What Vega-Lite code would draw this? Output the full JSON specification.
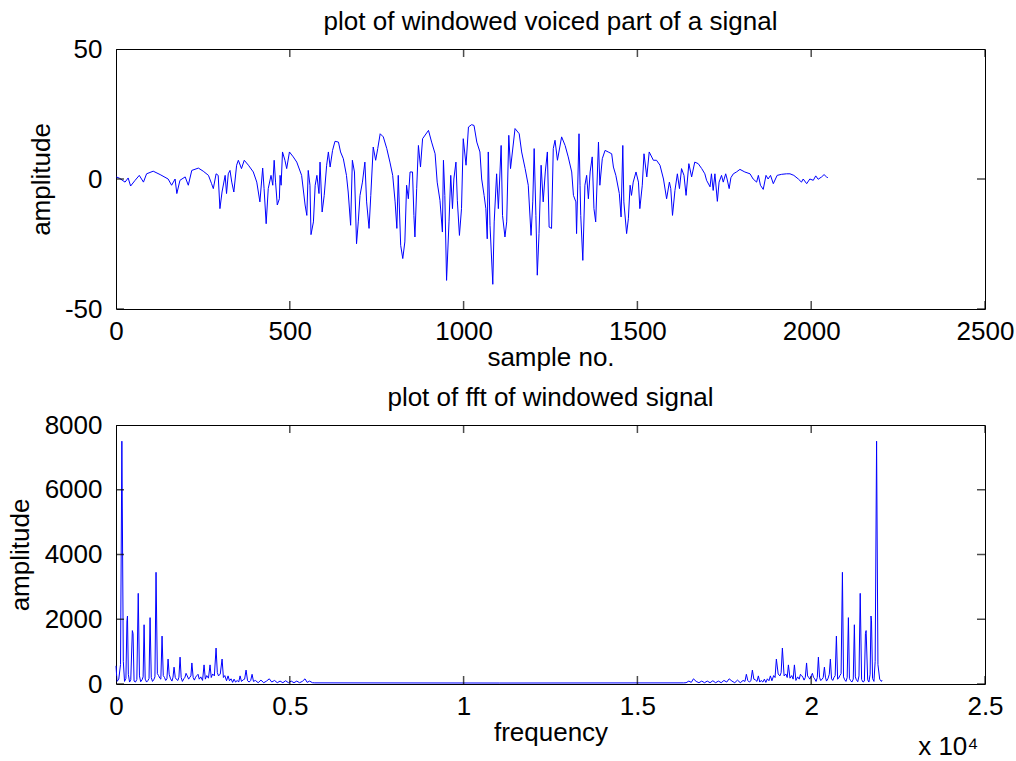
{
"$schema": "https://vega.github.io/schema/vega-lite/v6.json",
"background": "white",
"padding": {"left": 6, "top": 8, "right": 5, "bottom": 0},
"spacing": 116,
"bounds": "flush",
"config": {
  "font": "Liberation Sans",
  "view": {"stroke": "black", "strokeWidth": 1},
  "axis": {"domain": false, "grid": false, "ticks": false, "labelColor": "black", "labelFontSize": 26, "labelFont": "Liberation Sans", "titleFont": "Liberation Sans", "titleFontSize": 26, "titleFontWeight": "normal", "titleColor": "black", "labelPadding": 9, "labelFlush": false, "labelOverlap": false},
  "tick": {"color": "black", "thickness": 1.5, "size": 16},
  "title": {"font": "Liberation Sans", "fontSize": 26, "fontWeight": "normal", "color": "black", "offset": 1}
},
"vconcat": [
{
  "width": 869, "height": 260,
  "title": "plot of windowed voiced part of a signal",
  "layer": [
    {"data": {"values": [
{"sample":1,"amplitude":0.8},{"sample":10,"amplitude":0.3},{"sample":26,"amplitude":-1.2},{"sample":35,"amplitude":0.4},{"sample":42,"amplitude":-2.7},{"sample":55,"amplitude":-0.5},{"sample":67,"amplitude":1.4},{"sample":79,"amplitude":-1.2},{"sample":88,"amplitude":2},{"sample":107,"amplitude":3},{"sample":127,"amplitude":1.7},{"sample":150,"amplitude":0},{"sample":160,"amplitude":-2.4},{"sample":170,"amplitude":0},{"sample":175,"amplitude":-5.6},{"sample":184,"amplitude":-0.5},{"sample":199,"amplitude":0.8},{"sample":208,"amplitude":-2.4},{"sample":218,"amplitude":3.3},{"sample":237,"amplitude":4.2},{"sample":251,"amplitude":3},{"sample":266,"amplitude":1.4},{"sample":275,"amplitude":-1.8},{"sample":280,"amplitude":-3.7},{"sample":288,"amplitude":2},{"sample":294,"amplitude":1.4},{"sample":299,"amplitude":-11.4},{"sample":305,"amplitude":-5},{"sample":314,"amplitude":1.4},{"sample":318,"amplitude":-5.6},{"sample":323,"amplitude":2},{"sample":328,"amplitude":3.3},{"sample":333,"amplitude":-1.2},{"sample":339,"amplitude":-5},{"sample":347,"amplitude":5.3},{"sample":352,"amplitude":7.2},{"sample":361,"amplitude":4},{"sample":369,"amplitude":7.2},{"sample":381,"amplitude":5.3},{"sample":395,"amplitude":2.7},{"sample":405,"amplitude":-1.2},{"sample":414,"amplitude":-8.8},{"sample":422,"amplitude":4.2},{"sample":426,"amplitude":-3.7},{"sample":432,"amplitude":-17.2},{"sample":438,"amplitude":-3.7},{"sample":446,"amplitude":1.4},{"sample":451,"amplitude":-2.4},{"sample":455,"amplitude":7.2},{"sample":459,"amplitude":-1.2},{"sample":464,"amplitude":-10},{"sample":470,"amplitude":-7.6},{"sample":472,"amplitude":1.4},{"sample":475,"amplitude":-2.4},{"sample":479,"amplitude":10.4},{"sample":486,"amplitude":7.2},{"sample":491,"amplitude":4},{"sample":499,"amplitude":10.4},{"sample":510,"amplitude":8.5},{"sample":520,"amplitude":6.5},{"sample":534,"amplitude":1.4},{"sample":544,"amplitude":-10},{"sample":549,"amplitude":-14},{"sample":553,"amplitude":3.3},{"sample":558,"amplitude":-2.4},{"sample":561,"amplitude":-21.4},{"sample":568,"amplitude":-16.5},{"sample":573,"amplitude":-2.4},{"sample":578,"amplitude":1.4},{"sample":584,"amplitude":-5.6},{"sample":587,"amplitude":6.5},{"sample":593,"amplitude":-12.7},{"sample":599,"amplitude":-6.3},{"sample":606,"amplitude":5.3},{"sample":611,"amplitude":10.4},{"sample":616,"amplitude":4.6},{"sample":623,"amplitude":11},{"sample":630,"amplitude":14.5},{"sample":640,"amplitude":14.2},{"sample":646,"amplitude":10.4},{"sample":654,"amplitude":7.8},{"sample":663,"amplitude":1.4},{"sample":668,"amplitude":-5},{"sample":675,"amplitude":-17.8},{"sample":680,"amplitude":7.2},{"sample":686,"amplitude":2.7},{"sample":692,"amplitude":-24.9},{"sample":697,"amplitude":-16.5},{"sample":702,"amplitude":-6.3},{"sample":709,"amplitude":-1.2},{"sample":716,"amplitude":6.5},{"sample":721,"amplitude":-8.8},{"sample":728,"amplitude":-19},{"sample":733,"amplitude":-6.3},{"sample":740,"amplitude":12.3},{"sample":747,"amplitude":7.2},{"sample":753,"amplitude":11.7},{"sample":760,"amplitude":17.4},{"sample":769,"amplitude":16.2},{"sample":779,"amplitude":11.7},{"sample":788,"amplitude":6.5},{"sample":796,"amplitude":1.4},{"sample":803,"amplitude":-8.8},{"sample":808,"amplitude":-19},{"sample":812,"amplitude":1.4},{"sample":819,"amplitude":-25.5},{"sample":825,"amplitude":-30.6},{"sample":831,"amplitude":-24.2},{"sample":836,"amplitude":-2.4},{"sample":841,"amplitude":-7.6},{"sample":846,"amplitude":2.7},{"sample":853,"amplitude":2.7},{"sample":857,"amplitude":-14},{"sample":860,"amplitude":-22.3},{"sample":865,"amplitude":-3.7},{"sample":870,"amplitude":12.9},{"sample":876,"amplitude":4.6},{"sample":882,"amplitude":15.5},{"sample":899,"amplitude":18.7},{"sample":908,"amplitude":14.2},{"sample":918,"amplitude":9.7},{"sample":924,"amplitude":-1.2},{"sample":932,"amplitude":-8.2},{"sample":939,"amplitude":-20.4},{"sample":942,"amplitude":7.2},{"sample":946,"amplitude":-6.3},{"sample":951,"amplitude":-39},{"sample":958,"amplitude":-16.5},{"sample":963,"amplitude":1.4},{"sample":968,"amplitude":-11.4},{"sample":972,"amplitude":0},{"sample":978,"amplitude":6.5},{"sample":982,"amplitude":-8.2},{"sample":988,"amplitude":-21.7},{"sample":994,"amplitude":-11.4},{"sample":999,"amplitude":15.5},{"sample":1007,"amplitude":5.3},{"sample":1014,"amplitude":20},{"sample":1023,"amplitude":20.9},{"sample":1030,"amplitude":20.6},{"sample":1038,"amplitude":14.2},{"sample":1047,"amplitude":10.4},{"sample":1052,"amplitude":0},{"sample":1059,"amplitude":-6.3},{"sample":1064,"amplitude":-11.4},{"sample":1068,"amplitude":-23},{"sample":1071,"amplitude":10.4},{"sample":1076,"amplitude":-17.8},{"sample":1084,"amplitude":-40.5},{"sample":1088,"amplitude":-16.5},{"sample":1095,"amplitude":2},{"sample":1100,"amplitude":-11.4},{"sample":1108,"amplitude":12.9},{"sample":1112,"amplitude":-14},{"sample":1119,"amplitude":-22.3},{"sample":1124,"amplitude":-16.5},{"sample":1130,"amplitude":16.8},{"sample":1135,"amplitude":4},{"sample":1148,"amplitude":19.4},{"sample":1160,"amplitude":17.4},{"sample":1167,"amplitude":10.4},{"sample":1177,"amplitude":4},{"sample":1186,"amplitude":-2.4},{"sample":1194,"amplitude":-21.7},{"sample":1199,"amplitude":-8.8},{"sample":1203,"amplitude":11.7},{"sample":1208,"amplitude":-14},{"sample":1212,"amplitude":-37},{"sample":1217,"amplitude":-21},{"sample":1223,"amplitude":5.3},{"sample":1229,"amplitude":-8.8},{"sample":1235,"amplitude":2.7},{"sample":1241,"amplitude":10.4},{"sample":1246,"amplitude":-18.5},{"sample":1253,"amplitude":-19},{"sample":1258,"amplitude":11.7},{"sample":1263,"amplitude":14.9},{"sample":1270,"amplitude":7.2},{"sample":1282,"amplitude":16.2},{"sample":1292,"amplitude":12.9},{"sample":1301,"amplitude":8.5},{"sample":1311,"amplitude":2.7},{"sample":1316,"amplitude":-6.3},{"sample":1323,"amplitude":-8.8},{"sample":1325,"amplitude":-21},{"sample":1332,"amplitude":17.4},{"sample":1335,"amplitude":-2.4},{"sample":1337,"amplitude":-14},{"sample":1343,"amplitude":-31.3},{"sample":1349,"amplitude":-2.4},{"sample":1354,"amplitude":1.4},{"sample":1359,"amplitude":-7.6},{"sample":1364,"amplitude":2.7},{"sample":1370,"amplitude":8.5},{"sample":1375,"amplitude":-11.4},{"sample":1380,"amplitude":-16.5},{"sample":1388,"amplitude":14.2},{"sample":1392,"amplitude":-2.4},{"sample":1399,"amplitude":7.8},{"sample":1407,"amplitude":11},{"sample":1416,"amplitude":10.4},{"sample":1426,"amplitude":9.7},{"sample":1431,"amplitude":4.6},{"sample":1438,"amplitude":1.4},{"sample":1448,"amplitude":-5.6},{"sample":1453,"amplitude":-14.6},{"sample":1458,"amplitude":12.9},{"sample":1461,"amplitude":-8.8},{"sample":1469,"amplitude":-21},{"sample":1474,"amplitude":-15.3},{"sample":1479,"amplitude":-2.4},{"sample":1483,"amplitude":-6.3},{"sample":1488,"amplitude":-1.2},{"sample":1496,"amplitude":2.7},{"sample":1503,"amplitude":-1.2},{"sample":1507,"amplitude":-11.4},{"sample":1514,"amplitude":-2.4},{"sample":1519,"amplitude":9.7},{"sample":1527,"amplitude":0.8},{"sample":1534,"amplitude":10.4},{"sample":1546,"amplitude":7.2},{"sample":1555,"amplitude":7.2},{"sample":1565,"amplitude":5.3},{"sample":1575,"amplitude":0},{"sample":1584,"amplitude":-7.6},{"sample":1592,"amplitude":-1.2},{"sample":1596,"amplitude":-3.7},{"sample":1601,"amplitude":-14},{"sample":1608,"amplitude":-4.4},{"sample":1615,"amplitude":2},{"sample":1621,"amplitude":-3.7},{"sample":1627,"amplitude":4},{"sample":1634,"amplitude":1.4},{"sample":1640,"amplitude":-6.3},{"sample":1648,"amplitude":5.9},{"sample":1656,"amplitude":0.8},{"sample":1665,"amplitude":6.5},{"sample":1675,"amplitude":5.9},{"sample":1685,"amplitude":4},{"sample":1694,"amplitude":2},{"sample":1699,"amplitude":-0.5},{"sample":1709,"amplitude":-3},{"sample":1713,"amplitude":2},{"sample":1718,"amplitude":-4.4},{"sample":1723,"amplitude":2},{"sample":1730,"amplitude":-8.6},{"sample":1735,"amplitude":-1.2},{"sample":1742,"amplitude":1.4},{"sample":1747,"amplitude":-1.2},{"sample":1754,"amplitude":2},{"sample":1758,"amplitude":0},{"sample":1764,"amplitude":-3.7},{"sample":1769,"amplitude":0.5},{"sample":1776,"amplitude":2},{"sample":1785,"amplitude":2.7},{"sample":1795,"amplitude":3.7},{"sample":1809,"amplitude":2.7},{"sample":1824,"amplitude":2},{"sample":1833,"amplitude":0},{"sample":1843,"amplitude":-1.2},{"sample":1848,"amplitude":1.4},{"sample":1854,"amplitude":-2.4},{"sample":1862,"amplitude":-4},{"sample":1870,"amplitude":1.4},{"sample":1876,"amplitude":0},{"sample":1883,"amplitude":1.4},{"sample":1891,"amplitude":-1.8},{"sample":1902,"amplitude":1.4},{"sample":1915,"amplitude":1.8},{"sample":1929,"amplitude":2},{"sample":1939,"amplitude":2},{"sample":1950,"amplitude":1.4},{"sample":1963,"amplitude":0},{"sample":1972,"amplitude":-1.2},{"sample":1977,"amplitude":0},{"sample":1987,"amplitude":-1.8},{"sample":1996,"amplitude":0},{"sample":2006,"amplitude":-0.5},{"sample":2013,"amplitude":1.2},{"sample":2020,"amplitude":-0.1},{"sample":2030,"amplitude":0.8},{"sample":2037,"amplitude":1.7},{"sample":2044,"amplitude":0.8},{"sample":2048,"amplitude":0.5}
     ]},
     "mark": {"type": "line", "color": "#0000ff", "strokeWidth": 1},
     "encoding": {
       "x": {"field": "sample", "type": "quantitative", "scale": {"domain": [0, 2500], "nice": false, "zero": false}, "axis": {"orient": "bottom", "title": "sample no.", "values": [0, 500, 1000, 1500, 2000, 2500], "labelExpr": "'' + datum.value", "titlePadding": 0}},
       "y": {"field": "amplitude", "type": "quantitative", "scale": {"domain": [-50, 50], "nice": false}, "axis": {"orient": "left", "title": "amplitude", "values": [-50, 0, 50], "labelExpr": "'' + datum.value", "labelPadding": 14, "titlePadding": 10}}
     }},
    {"data": {"values": [{"tick": 0}, {"tick": 500}, {"tick": 1000}, {"tick": 1500}, {"tick": 2000}, {"tick": 2500}]},
     "mark": {"type": "tick", "orient": "vertical", "clip": true},
     "encoding": {"x": {"field": "tick", "type": "quantitative", "axis": null}, "y": {"datum": -50, "type": "quantitative", "axis": null}}},
    {"data": {"values": [{"tick": 0}, {"tick": 500}, {"tick": 1000}, {"tick": 1500}, {"tick": 2000}, {"tick": 2500}]},
     "mark": {"type": "tick", "orient": "vertical", "clip": true},
     "encoding": {"x": {"field": "tick", "type": "quantitative", "axis": null}, "y": {"datum": 50, "type": "quantitative", "axis": null}}},
    {"data": {"values": [{"tick": -50}, {"tick": 0}, {"tick": 50}]},
     "mark": {"type": "tick", "orient": "horizontal", "clip": true},
     "encoding": {"y": {"field": "tick", "type": "quantitative", "axis": null}, "x": {"datum": 0, "type": "quantitative", "axis": null}}},
    {"data": {"values": [{"tick": -50}, {"tick": 0}, {"tick": 50}]},
     "mark": {"type": "tick", "orient": "horizontal", "clip": true},
     "encoding": {"y": {"field": "tick", "type": "quantitative", "axis": null}, "x": {"datum": 2500, "type": "quantitative", "axis": null}}}
  ],
  "resolve": {"axis": {"x": "independent", "y": "independent"}}
},
{
  "width": 869, "height": 259,
  "title": "plot of fft of windowed signal",
  "layer": [
    {"data": {"values": [
{"frequency":0,"magnitude":560},{"frequency":30,"magnitude":80},{"frequency":80,"magnitude":150},{"frequency":130,"magnitude":600},{"frequency":169,"magnitude":7500},{"frequency":210,"magnitude":700},{"frequency":245,"magnitude":80},{"frequency":285,"magnitude":170},{"frequency":315,"magnitude":1950},{"frequency":330,"magnitude":2100},{"frequency":355,"magnitude":300},{"frequency":390,"magnitude":60},{"frequency":425,"magnitude":130},{"frequency":470,"magnitude":1650},{"frequency":490,"magnitude":1560},{"frequency":520,"magnitude":90},{"frequency":560,"magnitude":60},{"frequency":600,"magnitude":140},{"frequency":640,"magnitude":2800},{"frequency":675,"magnitude":250},{"frequency":710,"magnitude":70},{"frequency":750,"magnitude":130},{"frequency":780,"magnitude":220},{"frequency":808,"magnitude":1830},{"frequency":840,"magnitude":150},{"frequency":880,"magnitude":60},{"frequency":920,"magnitude":110},{"frequency":950,"magnitude":170},{"frequency":980,"magnitude":2050},{"frequency":1015,"magnitude":200},{"frequency":1050,"magnitude":80},{"frequency":1085,"magnitude":130},{"frequency":1120,"magnitude":220},{"frequency":1152,"magnitude":3450},{"frequency":1190,"magnitude":320},{"frequency":1225,"magnitude":260},{"frequency":1260,"magnitude":180},{"frequency":1290,"magnitude":150},{"frequency":1325,"magnitude":1480},{"frequency":1360,"magnitude":260},{"frequency":1395,"magnitude":200},{"frequency":1430,"magnitude":110},{"frequency":1465,"magnitude":160},{"frequency":1498,"magnitude":770},{"frequency":1530,"magnitude":300},{"frequency":1570,"magnitude":160},{"frequency":1610,"magnitude":90},{"frequency":1640,"magnitude":210},{"frequency":1670,"magnitude":520},{"frequency":1705,"magnitude":200},{"frequency":1740,"magnitude":140},{"frequency":1780,"magnitude":110},{"frequency":1810,"magnitude":210},{"frequency":1843,"magnitude":830},{"frequency":1875,"magnitude":200},{"frequency":1910,"magnitude":80},{"frequency":1950,"magnitude":160},{"frequency":1985,"magnitude":210},{"frequency":2015,"magnitude":330},{"frequency":2050,"magnitude":250},{"frequency":2090,"magnitude":150},{"frequency":2125,"magnitude":210},{"frequency":2155,"magnitude":250},{"frequency":2183,"magnitude":650},{"frequency":2220,"magnitude":200},{"frequency":2255,"magnitude":120},{"frequency":2290,"magnitude":210},{"frequency":2325,"magnitude":260},{"frequency":2360,"magnitude":300},{"frequency":2395,"magnitude":150},{"frequency":2440,"magnitude":220},{"frequency":2490,"magnitude":110},{"frequency":2533,"magnitude":590},{"frequency":2570,"magnitude":150},{"frequency":2610,"magnitude":260},{"frequency":2660,"magnitude":180},{"frequency":2706,"magnitude":590},{"frequency":2740,"magnitude":200},{"frequency":2780,"magnitude":310},{"frequency":2830,"magnitude":250},{"frequency":2879,"magnitude":1110},{"frequency":2915,"magnitude":350},{"frequency":2950,"magnitude":250},{"frequency":3000,"magnitude":310},{"frequency":3052,"magnitude":770},{"frequency":3090,"magnitude":200},{"frequency":3130,"magnitude":260},{"frequency":3180,"magnitude":100},{"frequency":3224,"magnitude":250},{"frequency":3265,"magnitude":100},{"frequency":3310,"magnitude":160},{"frequency":3355,"magnitude":50},{"frequency":3397,"magnitude":150},{"frequency":3440,"magnitude":60},{"frequency":3490,"magnitude":110},{"frequency":3530,"magnitude":60},{"frequency":3570,"magnitude":250},{"frequency":3610,"magnitude":80},{"frequency":3660,"magnitude":130},{"frequency":3700,"magnitude":150},{"frequency":3742,"magnitude":430},{"frequency":3785,"magnitude":100},{"frequency":3830,"magnitude":60},{"frequency":3875,"magnitude":110},{"frequency":3915,"magnitude":300},{"frequency":3955,"magnitude":80},{"frequency":4010,"magnitude":110},{"frequency":4090,"magnitude":40},{"frequency":4170,"magnitude":120},{"frequency":4250,"magnitude":40},{"frequency":4330,"magnitude":90},{"frequency":4410,"magnitude":160},{"frequency":4480,"magnitude":60},{"frequency":4560,"magnitude":110},{"frequency":4640,"magnitude":40},{"frequency":4720,"magnitude":90},{"frequency":4800,"magnitude":40},{"frequency":4880,"magnitude":100},{"frequency":4960,"magnitude":40},{"frequency":5040,"magnitude":90},{"frequency":5120,"magnitude":40},{"frequency":5200,"magnitude":90},{"frequency":5280,"magnitude":40},{"frequency":5360,"magnitude":80},{"frequency":5437,"magnitude":160},{"frequency":5500,"magnitude":50},{"frequency":5570,"magnitude":90},{"frequency":5650,"magnitude":40},{"frequency":5720,"magnitude":35},{"frequency":11025,"magnitude":30},
{"frequency":16330,"magnitude":35},{"frequency":16400,"magnitude":40},{"frequency":16480,"magnitude":90},{"frequency":16550,"magnitude":50},{"frequency":16613,"magnitude":160},{"frequency":16690,"magnitude":80},{"frequency":16770,"magnitude":40},{"frequency":16850,"magnitude":90},{"frequency":16930,"magnitude":40},{"frequency":17010,"magnitude":90},{"frequency":17090,"magnitude":40},{"frequency":17170,"magnitude":100},{"frequency":17250,"magnitude":40},{"frequency":17330,"magnitude":90},{"frequency":17410,"magnitude":40},{"frequency":17490,"magnitude":110},{"frequency":17570,"magnitude":60},{"frequency":17640,"magnitude":160},{"frequency":17720,"magnitude":90},{"frequency":17800,"magnitude":40},{"frequency":17880,"magnitude":120},{"frequency":17960,"magnitude":40},{"frequency":18040,"magnitude":110},{"frequency":18095,"magnitude":80},{"frequency":18135,"magnitude":300},{"frequency":18175,"magnitude":110},{"frequency":18220,"magnitude":60},{"frequency":18265,"magnitude":100},{"frequency":18308,"magnitude":430},{"frequency":18350,"magnitude":150},{"frequency":18390,"magnitude":130},{"frequency":18440,"magnitude":80},{"frequency":18480,"magnitude":250},{"frequency":18520,"magnitude":60},{"frequency":18560,"magnitude":110},{"frequency":18610,"magnitude":60},{"frequency":18653,"magnitude":150},{"frequency":18695,"magnitude":50},{"frequency":18740,"magnitude":160},{"frequency":18785,"magnitude":100},{"frequency":18826,"magnitude":250},{"frequency":18870,"magnitude":100},{"frequency":18920,"magnitude":260},{"frequency":18960,"magnitude":200},{"frequency":18998,"magnitude":770},{"frequency":19050,"magnitude":310},{"frequency":19100,"magnitude":250},{"frequency":19135,"magnitude":350},{"frequency":19171,"magnitude":1110},{"frequency":19220,"magnitude":250},{"frequency":19270,"magnitude":310},{"frequency":19310,"magnitude":200},{"frequency":19344,"magnitude":590},{"frequency":19390,"magnitude":180},{"frequency":19440,"magnitude":260},{"frequency":19480,"magnitude":150},{"frequency":19517,"magnitude":590},{"frequency":19560,"magnitude":110},{"frequency":19610,"magnitude":220},{"frequency":19655,"magnitude":150},{"frequency":19690,"magnitude":300},{"frequency":19725,"magnitude":260},{"frequency":19760,"magnitude":210},{"frequency":19795,"magnitude":120},{"frequency":19830,"magnitude":200},{"frequency":19867,"magnitude":650},{"frequency":19895,"magnitude":250},{"frequency":19925,"magnitude":210},{"frequency":19960,"magnitude":150},{"frequency":20000,"magnitude":250},{"frequency":20035,"magnitude":330},{"frequency":20065,"magnitude":210},{"frequency":20100,"magnitude":160},{"frequency":20140,"magnitude":80},{"frequency":20175,"magnitude":200},{"frequency":20207,"magnitude":830},{"frequency":20240,"magnitude":210},{"frequency":20270,"magnitude":110},{"frequency":20310,"magnitude":140},{"frequency":20345,"magnitude":200},{"frequency":20380,"magnitude":520},{"frequency":20410,"magnitude":210},{"frequency":20440,"magnitude":90},{"frequency":20480,"magnitude":160},{"frequency":20520,"magnitude":300},{"frequency":20552,"magnitude":770},{"frequency":20585,"magnitude":160},{"frequency":20620,"magnitude":110},{"frequency":20655,"magnitude":200},{"frequency":20690,"magnitude":260},{"frequency":20725,"magnitude":1480},{"frequency":20760,"magnitude":150},{"frequency":20790,"magnitude":180},{"frequency":20825,"magnitude":260},{"frequency":20860,"magnitude":320},{"frequency":20898,"magnitude":3450},{"frequency":20930,"magnitude":220},{"frequency":20965,"magnitude":130},{"frequency":21000,"magnitude":80},{"frequency":21035,"magnitude":200},{"frequency":21070,"magnitude":2050},{"frequency":21100,"magnitude":170},{"frequency":21130,"magnitude":110},{"frequency":21170,"magnitude":60},{"frequency":21210,"magnitude":150},{"frequency":21242,"magnitude":1830},{"frequency":21270,"magnitude":220},{"frequency":21300,"magnitude":130},{"frequency":21340,"magnitude":70},{"frequency":21375,"magnitude":250},{"frequency":21410,"magnitude":2800},{"frequency":21450,"magnitude":140},{"frequency":21490,"magnitude":60},{"frequency":21530,"magnitude":90},{"frequency":21560,"magnitude":1560},{"frequency":21580,"magnitude":1650},{"frequency":21625,"magnitude":130},{"frequency":21660,"magnitude":60},{"frequency":21695,"magnitude":300},{"frequency":21720,"magnitude":2100},{"frequency":21735,"magnitude":1950},{"frequency":21765,"magnitude":170},{"frequency":21805,"magnitude":80},{"frequency":21840,"magnitude":700},{"frequency":21881,"magnitude":7500},{"frequency":21920,"magnitude":600},{"frequency":21970,"magnitude":150},{"frequency":22020,"magnitude":80},{"frequency":22039,"magnitude":120}
     ]},
     "mark": {"type": "line", "color": "#0000ff", "strokeWidth": 1},
     "encoding": {
       "x": {"field": "frequency", "type": "quantitative", "scale": {"domain": [0, 25000], "nice": false}, "axis": {"orient": "bottom", "title": "frequency", "values": [0, 5000, 10000, 15000, 20000, 25000], "labelExpr": "'' + (datum.value / 10000)", "titlePadding": 0}},
       "y": {"field": "magnitude", "type": "quantitative", "scale": {"domain": [0, 8000], "nice": false}, "axis": {"orient": "left", "title": "amplitude", "values": [0, 2000, 4000, 6000, 8000], "labelExpr": "'' + datum.value", "labelPadding": 14, "titlePadding": 11}}
     }},
    {"data": {"values": [{"tick": 0}, {"tick": 5000}, {"tick": 10000}, {"tick": 15000}, {"tick": 20000}, {"tick": 25000}]},
     "mark": {"type": "tick", "orient": "vertical", "clip": true},
     "encoding": {"x": {"field": "tick", "type": "quantitative", "axis": {"orient": "bottom", "title": "x 10⁴", "labels": false, "ticks": false, "domain": false, "titleAnchor": "end", "titleAlign": "right", "titleX": 862, "titlePadding": 49}}, "y": {"datum": 0, "type": "quantitative", "axis": null}}},
    {"data": {"values": [{"tick": 0}, {"tick": 5000}, {"tick": 10000}, {"tick": 15000}, {"tick": 20000}, {"tick": 25000}]},
     "mark": {"type": "tick", "orient": "vertical", "clip": true},
     "encoding": {"x": {"field": "tick", "type": "quantitative", "axis": null}, "y": {"datum": 8000, "type": "quantitative", "axis": null}}},
    {"data": {"values": [{"tick": 0}, {"tick": 2000}, {"tick": 4000}, {"tick": 6000}, {"tick": 8000}]},
     "mark": {"type": "tick", "orient": "horizontal", "clip": true},
     "encoding": {"y": {"field": "tick", "type": "quantitative", "axis": null}, "x": {"datum": 0, "type": "quantitative", "axis": null}}},
    {"data": {"values": [{"tick": 0}, {"tick": 2000}, {"tick": 4000}, {"tick": 6000}, {"tick": 8000}]},
     "mark": {"type": "tick", "orient": "horizontal", "clip": true},
     "encoding": {"y": {"field": "tick", "type": "quantitative", "axis": null}, "x": {"datum": 25000, "type": "quantitative", "axis": null}}}
  ],
  "resolve": {"axis": {"x": "independent", "y": "independent"}}
}
]
}
